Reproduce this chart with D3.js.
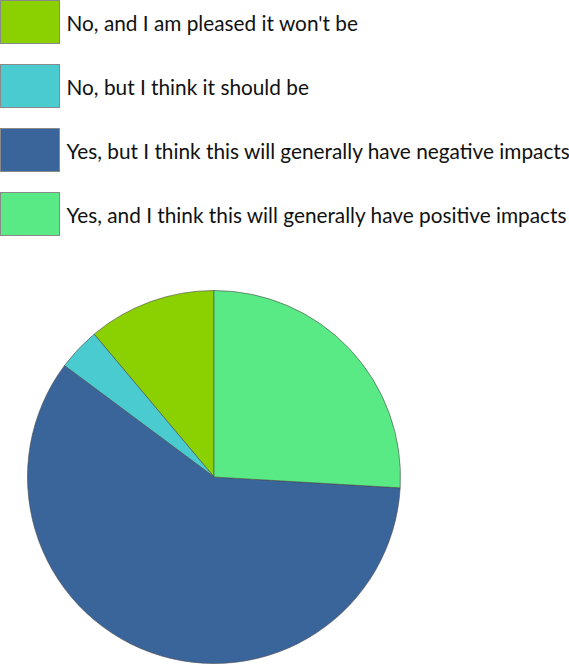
<!DOCTYPE html>
<html>
<head>
<meta charset="utf-8">
<script src="https://cdn.jsdelivr.net/npm/d3@7"></script>
<style>
  body { margin: 0; background: #fff; }
  svg { display: block; }
</style>
</head>
<body>
<svg id="chart" width="569" height="665"></svg>
<script>
// answers, in legend order
const answers = ["No, and I am pleased it won't be", "No, but I think it should be", "Yes, but I think this will generally have negative impacts", "Yes, and I think this will generally have positive impacts"]
const counts = [3, 1, 16, 7]
const colours = ["#8bd000", "#4acbd0", "#3a659b", "#59ea85"]

const width = 569
const radius = 186.5
const cx = 214
const cy = 477

const svg = d3.select('#chart')

const colour = d3.scaleOrdinal()
    .domain(answers)
    .range(colours)

// legend
const legendY = d3.scaleBand()
    .domain(answers)
    .range([0, 256])

const legend = svg.append("g")
    .selectAll("g")
    .data(answers)
    .join("g")
    .attr("transform", d => `translate(0.5, ${legendY(d) + 0.5})`)

legend.append("rect")
    .attr("width", 59)
    .attr("height", 43)
    .attr("fill", d => colour(d))
    .attr("stroke", "#8a8a8a")
    .attr("stroke-width", 1)

legend.append("text")
    .attr("x", 66)
    .attr("y", 30)
    .style("font-family", "Lato, sans-serif")
    .style("font-size", "20.8px")
    .attr("fill", "#111")
    .text(d => d)

// pie, counter-clockwise from 12 o'clock
const pie = d3.pie()
    .sort(null)
    .value(d => d.count)
    .startAngle(0)
    .endAngle(-2 * Math.PI)

const arc = d3.arc()
    .innerRadius(0)
    .outerRadius(radius)

const pieData = answers.map((a, i) => ({answer: a, count: counts[i]}))

svg.append("g")
    .attr("transform", `translate(${cx}, ${cy})`)
    .selectAll("path")
    .data(pie(pieData))
    .join("path")
    .attr("d", arc)
    .attr("fill", d => colour(d.data.answer))
    .attr("stroke", "#4a4a4a")
    .attr("stroke-width", 0.6)
</script>
</body>
</html>
